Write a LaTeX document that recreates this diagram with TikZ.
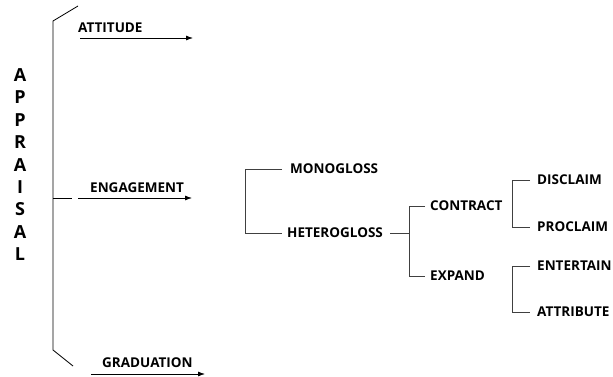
\documentclass[tikz,border=0pt]{standalone}
\usepackage{fontspec}
\setmainfont{Open Sans}
\usetikzlibrary{arrows.meta}

\tikzset{
  lbl/.style={font=\bfseries\fontsize{13.5}{14}\selectfont, anchor=west, inner sep=2pt},
  big/.style={font=\bfseries\fontsize{18}{19}\selectfont, inner sep=0pt},
  arr/.style={-{Latex[length=7pt,width=5pt]}, line width=.8pt},
  br/.style={line width=.8pt, black!75}
}

\begin{document}
\begin{tikzpicture}[x=1pt,y=-1pt]
         \useasboundingbox (0,0) rectangle (613,377);
         % left bracket
         \coordinate (b1) at (78,6);
         \coordinate (b2) at (53,21);
         \coordinate (b3) at (53,350);
         \coordinate (b4) at (73,366);
         \draw [line width=.8pt] (b1)--(b2)--(b3)--(b4);
         \foreach \l [count=\i from 0] in {A,P,P,R,A,I,S,A,L}
           \node[big] (ap\i) at (20,75+22.4*\i) {\l};
         % three systems
         \node[lbl] (att) at (76,28) {ATTITUDE};
         \node[lbl] (eng) at (88,188) {ENGAGEMENT};
         \node[lbl] (gra) at (100,363) {GRADUATION};
         \coordinate (att-s) at (80,38);  \coordinate (att-e) at (193,38);
         \coordinate (eng-s) at (78,198); \coordinate (eng-e) at (192,198);
         \coordinate (gra-s) at (91,374); \coordinate (gra-e) at (205,374);
         \coordinate (dash) at (72,198);
         \draw [arr] (att-s)--(att-e);
         \draw [arr] (eng-s)--(eng-e);
         \draw [arr] (gra-s)--(gra-e);
         \draw [line width=.8pt] (b2|-eng-s)--(dash);
         % engagement network
         \node[lbl] (mono) at (288,169) {MONOGLOSS};
         \node[lbl] (hetero) at (285,233) {HETEROGLOSS};
         \node[lbl] (contract) at (428,206) {CONTRACT};
         \node[lbl] (expand) at (428,276) {EXPAND};
         \node[lbl] (disclaim) at (535,180) {DISCLAIM};
         \node[lbl] (proclaim) at (535,227) {PROCLAIM};
         \node[lbl] (entertain) at (535,266) {ENTERTAIN};
         \node[lbl] (attribute) at (535,312) {ATTRIBUTE};
         \draw [br] ([xshift=-6pt]mono.west)--++(-37,0) |- ([xshift=-3pt]hetero.west);
         \draw [br] ([xshift=5pt]hetero.east)--++(19,0) coordinate (hc);
         \draw [br] ([xshift=-3pt]contract.west) -| (hc) |- ([xshift=-3pt]expand.west);
         \draw [br] ([xshift=-5pt]disclaim.west)--++(-18,0) |- ([xshift=-5pt]proclaim.west);
         \draw [br] ([xshift=-5pt]entertain.west)--++(-18,0) |- ([xshift=-5pt]attribute.west);
       \end{tikzpicture}
\end{document}
